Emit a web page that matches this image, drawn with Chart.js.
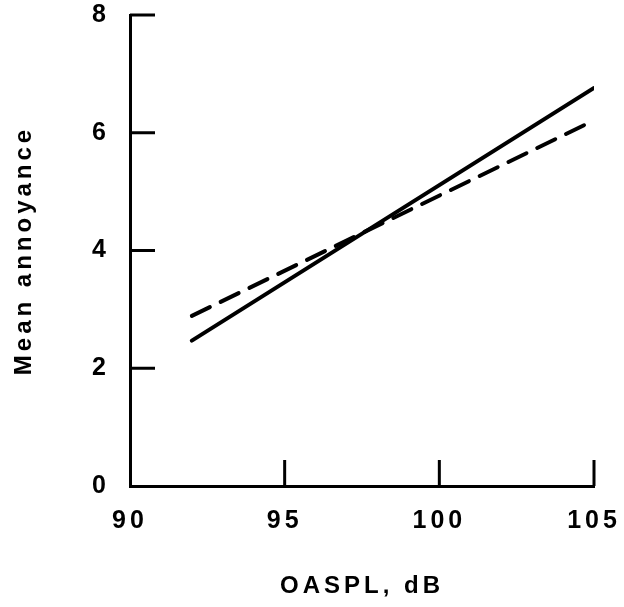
<!DOCTYPE html>
<html>
<head>
<meta charset="utf-8">
<script src="https://cdn.jsdelivr.net/npm/chart.js@4.4.1/dist/chart.umd.min.js"></script>
<style>
    html, body { margin: 0; padding: 0; background: #fff; }
    #wrap { width: 624px; height: 607px; }
</style>
</head>
<body>
<div id="wrap"><canvas id="chart"></canvas></div>
<script>
// OASPL values where both lines start and end
const oaspl = [92, 105];
// mean annoyance, solid line
const solidAnnoyance = [2.47, 6.76];
// mean annoyance, dashed line
const dashedAnnoyance = [2.89, 6.21];
// tick labels
const xTicks = [90, 95, 100, 105];
const yTicks = [0, 2, 4, 6, 8];

const toPoints = (xs, ys) => xs.map((x, i) => ({ x: x, y: ys[i] }));

// ticks drawn inward, from the axis into the plot
const inwardTicks = {
    id: 'inwardTicks',
    beforeDraw(chart) {
        chart.ctx.letterSpacing = '4px';
    },
    afterDraw(chart) {
        const ctx = chart.ctx;
        const area = chart.chartArea;
        const xs = chart.scales.x;
        const ys = chart.scales.y;
        ctx.save();
        ctx.strokeStyle = '#000';
        ctx.lineWidth = 3;
        ctx.beginPath();
        yTicks.slice(1).forEach(v => {
            const py = ys.getPixelForValue(v);
            ctx.moveTo(area.left, py);
            ctx.lineTo(area.left + 25, py);
        });
        xTicks.slice(1).forEach(v => {
            const px = xs.getPixelForValue(v);
            ctx.moveTo(px, area.bottom);
            ctx.lineTo(px, area.bottom - 26);
        });
        ctx.stroke();
        ctx.restore();
    }
};

const tickFont = { family: '"Liberation Sans", Arial, sans-serif', size: 25, weight: 'bold' };
const titleFont = { family: '"Liberation Sans", Arial, sans-serif', size: 24, weight: 'bold' };

new Chart(document.getElementById('chart'), {
    type: 'line',
    data: {
        datasets: [{
            data: toPoints(oaspl, solidAnnoyance),
            borderColor: '#000',
            borderWidth: 4,
            borderCapStyle: 'round',
            pointRadius: 0
        }, {
            data: toPoints(oaspl, dashedAnnoyance),
            borderColor: '#000',
            borderWidth: 4,
            borderDash: [20, 12],
            borderCapStyle: 'round',
            pointRadius: 0
        }]
    },
    options: {
        responsive: true,
        maintainAspectRatio: false,
        animation: false,
        layout: { padding: { top: 15, right: 30, left: 0, bottom: 0 } },
        plugins: { legend: { display: false }, tooltip: { enabled: false } },
        scales: {
            x: {
                type: 'linear',
                min: 90,
                max: 105,
                afterBuildTicks: s => { s.ticks = xTicks.map(v => ({ value: v })); },
                afterFit: s => {
                    s.height = 121;
                    s.paddingLeft = 0;
                    s.paddingRight = 0;
                },
                grid: { display: false, drawTicks: false },
                border: { display: true, color: '#000', width: 3 },
                ticks: { color: '#000', font: tickFont, padding: 20, maxRotation: 0 },
                title: { display: true, text: 'OASPL, dB', color: '#000', font: titleFont, padding: { top: 0, bottom: 6 } }
            },
            y: {
                type: 'linear',
                min: 0,
                max: 8,
                afterBuildTicks: s => { s.ticks = yTicks.map(v => ({ value: v })); },
                afterFit: s => {
                    s.width = 130;
                    s.paddingTop = 0;
                    s.paddingBottom = 0;
                },
                grid: { display: false, drawTicks: false },
                border: { display: true, color: '#000', width: 3 },
                ticks: { color: '#000', font: tickFont, padding: 20 },
                title: { display: true, text: 'Mean annoyance', color: '#000', font: titleFont, padding: { top: 10, bottom: 0 } }
            }
        }
    },
    plugins: [inwardTicks]
});
</script>
</body>
</html>
